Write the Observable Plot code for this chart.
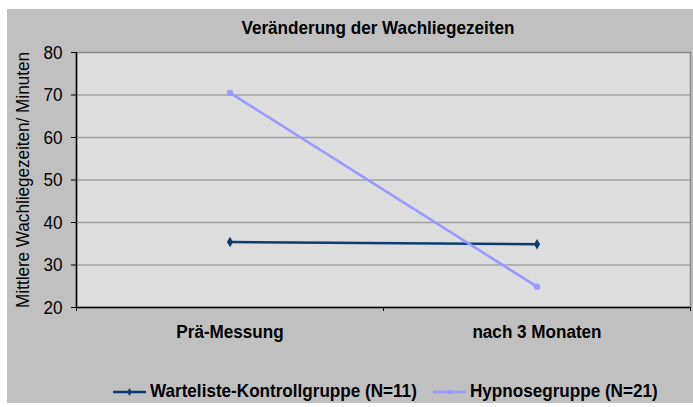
<!DOCTYPE html>
<html><head><meta charset="utf-8">
<script src="https://cdn.jsdelivr.net/npm/d3@7"></script>
<script src="https://cdn.jsdelivr.net/npm/@observablehq/plot@0.6"></script>
<style>
html,body{margin:0;padding:0;background:#fff;}
#chart{position:absolute;left:7px;top:9px;width:686px;height:394px;background:#c0c0c0;font-family:"Liberation Sans",Arial,sans-serif;color:#000;overflow:hidden;}
#title{position:absolute;left:371px;top:9px;transform:translateX(-50%) scaleX(0.9);font-size:19px;line-height:19px;font-weight:bold;white-space:nowrap;}
.leg{position:absolute;top:372px;height:19px;display:flex;align-items:center;gap:4px;font-size:19px;line-height:19px;font-weight:bold;white-space:nowrap;}
.leg span{display:inline-block;transform:scaleX(0.9);transform-origin:left center;}
#plot{position:absolute;left:0;top:0;}
</style>
</head><body>
<div id="chart">
  <div id="plot"></div>
  <div id="title"></div>
</div>
<script>
const title = "Veränderung der Wachliegezeiten";
const yLabel = "Mittlere Wachliegezeiten/ Minuten";
const categories = ["Prä-Messung", "nach 3 Monaten"];
const seriesNames = ["Warteliste-Kontrollgruppe (N=11)", "Hypnosegruppe (N=21)"];
const kontroll = [35.4, 34.9];
const hypnose = [70.5, 24.9];
const yTicks = [20, 30, 40, 50, 60, 70, 80];
const colors = ["#0e3b6c", "#9999ff"];
const symbols = ["diamond", "circle"];

const FONT = '"Liberation Sans",Arial,sans-serif';
const SQUEEZE = 0.9;
document.getElementById("title").textContent = title;

const seriesValues = [kontroll, hypnose];
const rows = [];
seriesValues.forEach((vals, s) => vals.forEach((v, i) => rows.push({series: seriesNames[s], x: i + 0.5, y: v})));
const centers = categories.map((c, i) => i + 0.5);
const bounds = d3.range(categories.length + 1);

const plot = Plot.plot({
  width: 686, height: 394,
  marginLeft: 69, marginRight: 3, marginTop: 43, marginBottom: 96,
  style: {background: "transparent", fontFamily: FONT, fontSize: "19px", color: "#000"},
  x: {domain: [0, categories.length], axis: null},
  y: {domain: [yTicks[0], yTicks[yTicks.length - 1]], axis: null},
  color: {domain: seriesNames, range: colors},
  symbol: {domain: seriesNames, range: symbols},
  marks: [
    Plot.frame({fill: "#dddddd", stroke: null}),
    Plot.gridY(yTicks.slice(1, -1), {stroke: "#a0a0a0", strokeOpacity: 1, strokeWidth: 1.3}),
    Plot.frame({stroke: "#8a8a8a", strokeWidth: 1.5}),
    Plot.axisY(yTicks, {tickSize: 5, tickPadding: 9, stroke: "#000", label: yLabel, labelAnchor: "center", labelArrow: "none", labelOffset: 61, fontSize: 19}),
    Plot.axisX(bounds, {tickSize: 4, stroke: "#000", tickFormat: () => "", label: null}),
    Plot.axisX(centers, {tickSize: 0, tickPadding: 17, tickFormat: d => categories[Math.floor(d)], fontWeight: "bold", label: null, fontSize: 19}),
    Plot.ruleX([0], {stroke: "#000", strokeWidth: 1.5}),
    Plot.ruleY([yTicks[0]], {stroke: "#000", strokeWidth: 1.5}),
    Plot.line(rows, {x: "x", y: "y", z: "series", stroke: "series", strokeWidth: 2.6}),
    Plot.dot(rows, {x: "x", y: "y", fill: "series", symbol: "series", r: 3.2, stroke: null})
  ]
});
// condense every text horizontally around its own anchor (narrow look of the reference)
const isNum = v => v !== null && /^-?[\d.]+(e-?\d+)?$/.test(v.trim());
plot.querySelectorAll("text").forEach(el => {
  let tr = el.getAttribute("transform") || "";
  const x = el.getAttribute("x"), y = el.getAttribute("y");
  const nx = isNum(x), ny = isNum(y);
  if (nx || ny) {
    tr += ` translate(${nx ? x : 0},${ny ? y : 0})`;
    if (nx) el.removeAttribute("x");
    if (ny) el.removeAttribute("y");
  }
  el.setAttribute("transform", (tr + ` scale(${SQUEEZE},1)`).trim());
});
document.getElementById("plot").appendChild(plot);

// legend
const legLefts = [106, 426];
seriesNames.forEach((name, s) => {
  const item = document.createElement("div");
  item.className = "leg";
  item.style.left = legLefts[s] + "px";
  const sw = d3.create("svg").attr("width", 33).attr("height", 19);
  sw.append("line").attr("x1", 0).attr("x2", 33).attr("y1", 11).attr("y2", 11)
    .attr("stroke", colors[s]).attr("stroke-width", 2.4);
  sw.append("path").attr("transform", "translate(16.5,11)")
    .attr("d", d3.symbol(s === 0 ? d3.symbolDiamond : d3.symbolCircle, 18)())
    .attr("fill", colors[s]);
  item.appendChild(sw.node());
  const t = document.createElement("span");
  t.textContent = name;
  item.appendChild(t);
  document.getElementById("chart").appendChild(item);
});
</script>
</body></html>
